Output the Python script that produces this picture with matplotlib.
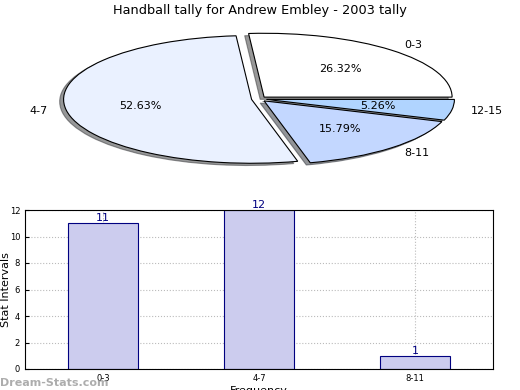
import matplotlib
matplotlib.use("Agg")
import matplotlib.pyplot as plt

# pie data
pie_labels = ['0-3', '4-7', '8-11', '12-15']
pie_values = [5, 10, 3, 1]
pie_colors = ['#ffffff', '#eaf1ff', '#c3d7ff', '#b0d4ff']

# bar data
bar_labels = ['0-3', '4-7', '8-11']
bar_values = [11, 12, 1]

fig = plt.figure(figsize=(5.2, 3.9), dpi=100)

# pie on top, squashed into an ellipse
ax1 = fig.add_axes([(259 - 1.3 * 188) / 520, 208 / 390, 2.6 * 188 / 520, 166 / 390])
ax1.pie(pie_values, labels=pie_labels, colors=pie_colors,
        explode=[0.04] * 4, autopct='%1.2f%%',
        shadow={'ox': -0.015, 'oy': -0.025, 'shade': 0.8},
        startangle=0, pctdistance=0.6, labeldistance=1.1,
        wedgeprops={'edgecolor': 'black', 'linewidth': 0.8},
        textprops={'fontsize': 8})
ax1.set_aspect('auto')
ax1.set_xlim(-1.3, 1.3)
ax1.set_ylim(-1.3, 1.3)
fig.text(0.5, 0.99, 'Handball tally for Andrew Embley - 2003 tally',
         ha='center', va='top', fontsize=9.3)

# bar chart below
ax2 = fig.add_axes([25 / 520, 21 / 390, 468 / 520, 159 / 390])
x = range(len(bar_values))
bars = ax2.bar(x, bar_values, width=0.45, color='#ccccee',
               edgecolor='navy', linewidth=0.8, zorder=2)
for xi, v in zip(x, bar_values):
    ax2.text(xi, v, str(v), ha='center', va='bottom', color='navy', fontsize=8)
ax2.set_xlim(-0.5, 2.5)
ax2.set_ylim(0, 12)
ax2.set_yticks(range(0, 13, 2))
ax2.set_xticks(list(x))
ax2.set_xticklabels(bar_labels)
ax2.tick_params(labelsize=6, direction='in', length=3)
ax2.grid(True, linestyle=':', color='#bbbbbb', linewidth=0.8, zorder=0)
ax2.set_axisbelow(True)
ax2.set_xlabel('Frequency', fontsize=8, labelpad=2)
ax2.set_ylabel('Stat Intervals', fontsize=8)
ax2.yaxis.set_label_coords(-0.03, 0.5)

fig.text(0.0, 0.005, 'Dream-Stats.com', color='#999999', fontsize=8,
         fontweight='bold', ha='left', va='bottom', alpha=0.8)

fig.savefig('out.png', dpi=100)
